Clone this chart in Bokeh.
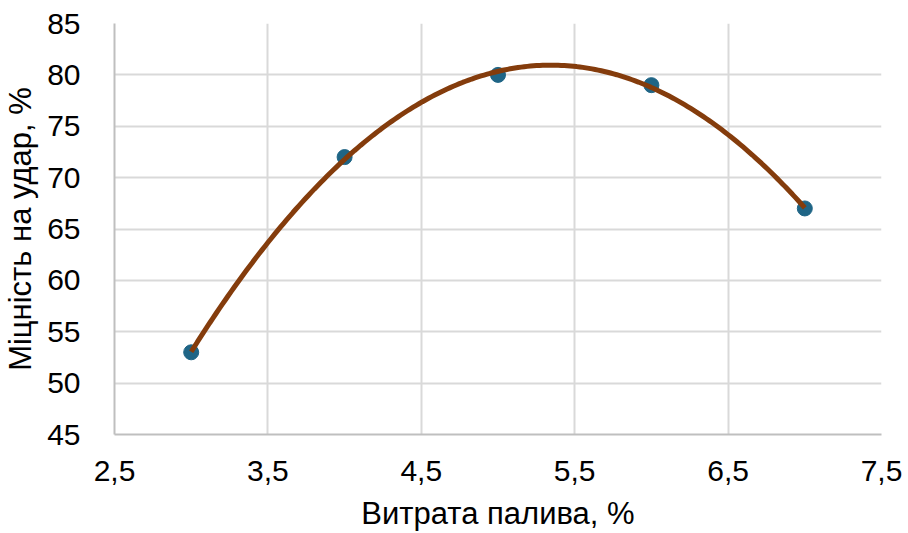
import numpy as np
from bokeh.plotting import figure
from bokeh.models import FixedTicker, CustomJSTickFormatter, Range1d
from bokeh.embed import file_html
from bokeh.resources import INLINE

x_vals = [3, 4, 5, 6, 7]
y_vals = [53, 72, 80, 79, 67]
x_ticks = [2.5, 3.5, 4.5, 5.5, 6.5, 7.5]
y_ticks = [45, 50, 55, 60, 65, 70, 75, 80, 85]
x_title = "Витрата палива, %"
y_title = "Міцність на удар, %"

# quadratic trendline fitted to the data
coef = np.polyfit(x_vals, y_vals, 2)
xs = np.linspace(min(x_vals), max(x_vals), 200)
ys = np.polyval(coef, xs)

FONT = "Liberation Sans"

p = figure(width=908, height=533, output_backend="svg", toolbar_location=None,
           x_range=Range1d(2.5, 7.5), y_range=Range1d(45, 85),
           min_border_left=114, min_border_right=27, min_border_top=23, min_border_bottom=99)
p.outline_line_color = None
p.background_fill_color = "white"
p.border_fill_color = "white"

for ax in (p.xaxis[0], p.yaxis[0]):
    ax.axis_line_color = "#bfbfbf"
    ax.axis_line_width = 2
    ax.major_tick_line_color = None
    ax.minor_tick_line_color = None
    ax.major_label_text_font = FONT
    ax.major_label_text_font_size = "30px"
    ax.major_label_text_color = "#000000"
    ax.axis_label_text_font = FONT
    ax.axis_label_text_font_size = "31px"
    ax.axis_label_text_font_style = "normal"
    ax.axis_label_text_color = "#000000"

p.xaxis.ticker = FixedTicker(ticks=x_ticks)
p.yaxis.ticker = FixedTicker(ticks=y_ticks)
p.xaxis.formatter = CustomJSTickFormatter(code="return tick.toFixed(1).replace('.', ',');")
p.yaxis.formatter = CustomJSTickFormatter(code="return tick.toFixed(0);")
p.xaxis.axis_label = x_title
p.yaxis.axis_label = y_title
p.xaxis.major_label_standoff = 20
p.yaxis.major_label_standoff = 28
p.xaxis.axis_label_standoff = 12
p.yaxis.axis_label_standoff = 6

p.xgrid.grid_line_color = "#d9d9d9"
p.ygrid.grid_line_color = "#d9d9d9"
p.xgrid.grid_line_width = 2
p.ygrid.grid_line_width = 2

p.scatter(x_vals, y_vals, size=15, fill_color="#1f6586", line_color="#1f6586")
p.line(xs, ys, line_color="#843c0c", line_width=5)

open("out.html", "w").write(file_html(p, INLINE))
